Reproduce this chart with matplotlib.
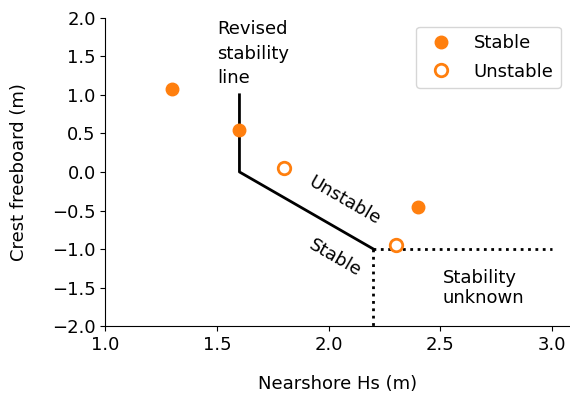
import matplotlib
matplotlib.use("Agg")
import matplotlib.pyplot as plt

# measured points
stable_hs = [1.3, 1.6, 2.4]
stable_rc = [1.08, 0.55, -0.45]
unstable_hs = [1.8, 2.3]
unstable_rc = [0.05, -0.95]

# revised stability line
line_hs = [1.6, 1.6, 2.2]
line_rc = [1.0, 0.0, -1.0]
dot_h_hs = [2.2, 3.0]
dot_h_rc = [-1.0, -1.0]
dot_v_hs = [2.2, 2.2]
dot_v_rc = [-1.0, -2.0]

orange = "#ff7f0e"
fs = 13

fig, ax = plt.subplots(figsize=(5.7, 3.93), dpi=100)

ax.plot(line_hs, line_rc, color="black", lw=2)
ax.plot(dot_h_hs, dot_h_rc, color="black", lw=2, ls=":")
ax.plot(dot_v_hs, dot_v_rc, color="black", lw=2, ls=":")

ax.plot(stable_hs, stable_rc, "o", color=orange, ms=9, label="Stable", zorder=3)
ax.plot(unstable_hs, unstable_rc, "o", color=orange, mfc="white", mew=2, ms=9,
        label="Unstable", zorder=3)

ax.text(1.5, 1.1, "Revised\nstability\nline", fontsize=fs, ha="left", va="bottom",
        linespacing=1.45)
ax.text(2.07, -0.37, "Unstable", fontsize=fs, rotation=-30, ha="center", va="center",
        rotation_mode="anchor")
ax.text(2.03, -1.12, "Stable", fontsize=fs, rotation=-30, ha="center", va="center",
        rotation_mode="anchor")
ax.text(2.51, -1.5, "Stability\nunknown", fontsize=fs, ha="left", va="center",
        linespacing=1.15)

ax.set_xlim(1.0, 3.08)
ax.set_ylim(-2.0, 2.0)
ax.set_xticks([1.0, 1.5, 2.0, 2.5, 3.0])
ax.set_yticks([-2.0, -1.5, -1.0, -0.5, 0.0, 0.5, 1.0, 1.5, 2.0])
ax.tick_params(labelsize=fs)
ax.set_xlabel("Nearshore Hs (m)", fontsize=fs, labelpad=15)
ax.set_ylabel("Crest freeboard (m)", fontsize=fs, labelpad=17)
ax.spines["top"].set_visible(False)
ax.spines["right"].set_visible(False)
ax.legend(loc="upper right", fontsize=fs, frameon=True, labelspacing=0.6)

fig.subplots_adjust(left=0.185, right=1.0, top=0.955, bottom=0.17)
fig.savefig("out.png")
